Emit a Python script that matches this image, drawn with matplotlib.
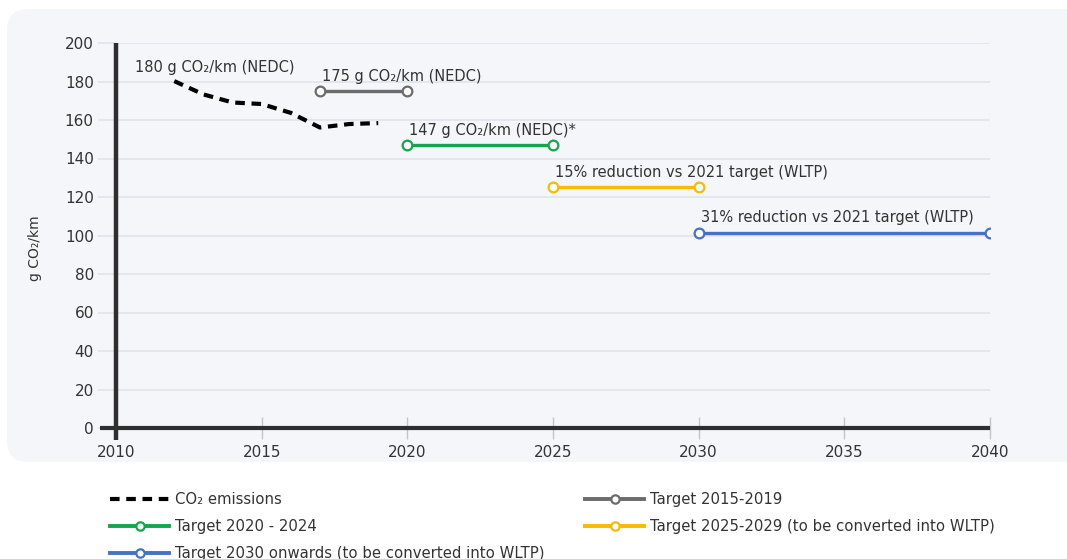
import matplotlib
matplotlib.use("Agg")
import matplotlib.pyplot as plt
from matplotlib.lines import Line2D
from matplotlib.patches import FancyBboxPatch

# Average CO2 emissions of new vans (g CO2/km, NEDC)
emission_years = [2012, 2013, 2014, 2015, 2016, 2017, 2018, 2019]
emission_values = [180.2, 173.3, 169.1, 168.3, 163.7, 156.1, 157.9, 158.4]

# Fleet-wide targets: (start year, end year, level)
target_names = ["Target 2015-2019", "Target 2020 - 2024",
                "Target 2025-2029 (to be converted into WLTP)",
                "Target 2030 onwards (to be converted into WLTP)"]
target_start = [2017, 2020, 2025, 2030]
target_end = [2020, 2025, 2030, 2040]
target_level = [175, 147, 125, 101.5]
target_notes = ["175 g CO\u2082/km (NEDC)", "147 g CO\u2082/km (NEDC)*",
                "15% reduction vs 2021 target (WLTP)",
                "31% reduction vs 2021 target (WLTP)"]
target_colors = ["#6b6b6b", "#12a84a", "#fbb900", "#4472c4"]

emission_note = "180 g CO\u2082/km (NEDC)"
emission_label = "CO\u2082 emissions"

x_ticks = [2010, 2015, 2020, 2025, 2030, 2035, 2040]
y_ticks = [0, 20, 40, 60, 80, 100, 120, 140, 160, 180, 200]

W, H = 1067, 559
plt.rcParams["font.family"] = ["DejaVu Sans"]
fig = plt.figure(figsize=(W / 100, H / 100), dpi=100)
fig.patch.set_facecolor("white")

# light rounded panel behind the plot area
panel = FancyBboxPatch((7 / W, 1 - 462 / H), 1.1, (462 - 9) / H,
                       boxstyle="round,pad=0,rounding_size=0.02",
                       transform=fig.transFigure, facecolor="#f4f6fa",
                       edgecolor="none", zorder=-10, mutation_aspect=W / H)
fig.patches.append(panel)

left, right = 116 / W, 990 / W
bottom, top = 1 - 428 / H, 1 - 43 / H
ax = fig.add_axes([left, bottom, right - left, top - bottom])
ax.set_facecolor("none")
ax.set_xlim(2010, 2040)
ax.set_ylim(0, 200)
for s in ax.spines.values():
    s.set_visible(False)

ax.set_yticks(y_ticks)
ax.set_xticks(x_ticks)
ax.grid(axis="y", color="#e2e3e8", linewidth=1.2, zorder=1)
ax.tick_params(axis="y", length=13, width=1.2, color="#e2e3e8",
               labelsize=11, labelcolor="#333333", pad=3)
ax.tick_params(axis="x", direction="inout", length=16, width=1.0,
               color="#c4c4c8", labelsize=11, labelcolor="#333333", pad=4)

# heavy axis lines
ax.add_line(Line2D([0, 0], [-0.03, 1.0], transform=ax.transAxes,
                   color="#2e2e2e", linewidth=3.2, clip_on=False, zorder=5,
                   solid_capstyle="butt"))
ax.add_line(Line2D([-0.018, 1.0], [0, 0], transform=ax.transAxes,
                   color="#2e2e2e", linewidth=3.0, clip_on=False, zorder=5,
                   solid_capstyle="butt"))

# emissions
co2_line, = ax.plot(emission_years, emission_values, color="black",
                    linewidth=3.0, dashes=(2.3, 1.6), zorder=4,
                    label=emission_label)
ax.annotate(emission_note, (emission_years[0], emission_values[0]),
            xytext=(-39, 13.5), textcoords="offset pixels",
            ha="left", va="center", fontsize=10.5, color="#333333")

# targets
target_handles = []
for name, x0, x1, lev, note, c in zip(target_names, target_start, target_end,
                                      target_level, target_notes, target_colors):
    ax.plot([x0, x1], [lev, lev], color=c, linewidth=2.4, zorder=4,
            solid_capstyle="butt")
    ax.plot([x0, x1], [lev, lev], linestyle="none", marker="o",
            markersize=7, markerfacecolor="white", markeredgecolor=c,
            markeredgewidth=1.6, zorder=6)
    ax.annotate(note, (x0, lev), xytext=(2, 15), textcoords="offset pixels",
                ha="left", va="center", fontsize=10.5, color="#333333")
    target_handles.append(Line2D([0, 1], [0, 0], color=c, linewidth=2.8,
                                 marker="o", markersize=6,
                                 markerfacecolor="white", markeredgecolor=c,
                                 markeredgewidth=1.6, label=name))

fig.text(35 / W, 1 - 248 / H, "g CO\u2082/km", rotation=90, ha="center",
         va="center", fontsize=10, color="#333333")

leg_kw = dict(frameon=False, fontsize=10.7, handlelength=4.0,
              handletextpad=0.35, labelspacing=0.8, borderaxespad=0,
              borderpad=0, numpoints=1, labelcolor="#333333")
leg1 = fig.legend(handles=[co2_line, target_handles[1], target_handles[3]],
                  loc="upper left", bbox_to_anchor=(110 / W, 1 - 492 / H),
                  **leg_kw)
leg2 = fig.legend(handles=[target_handles[0], target_handles[2]],
                  loc="upper left", bbox_to_anchor=(585 / W, 1 - 492 / H),
                  **leg_kw)

fig.savefig("out.png", dpi=100, facecolor="white")
